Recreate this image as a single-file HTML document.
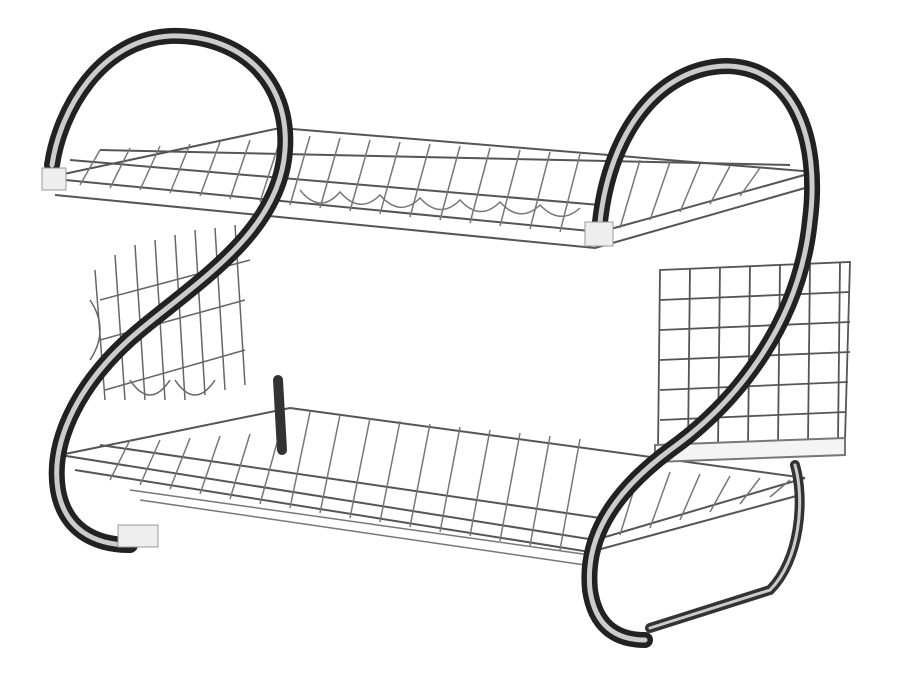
<!DOCTYPE html>
<html><head><meta charset="utf-8"><style>html,body{margin:0;padding:0;background:#fff}svg{display:block}</style></head>
<body>
<svg width="898" height="673" viewBox="0 0 898 673" xmlns="http://www.w3.org/2000/svg">
<rect width="898" height="673" fill="#fff"/>
<g fill="none" stroke="#555" stroke-width="2">
<!-- upper tray -->
<path d="M45 178 L600 232 L815 172 L280 128 Z"/>
<path d="M55 195 L595 248 L805 188"/>
<path d="M70 160 L600 205 M100 150 L790 165"/>
<g stroke="#777" stroke-width="1.5">
<path d="M80 185 L100 150 M110 188 L130 148 M140 190 L160 146 M170 193 L190 144 M200 196 L220 142 M230 199 L250 140 M260 202 L282 134 M290 205 L310 136 M320 208 L340 138 M350 211 L370 140 M380 214 L400 142 M410 217 L430 144 M440 220 L460 146 M470 223 L490 148 M500 226 L520 150 M530 229 L550 152 M560 232 L580 154 M620 228 L640 160 M650 220 L670 162 M680 212 L700 164 M710 204 L730 166 M740 196 L760 168"/>
<path d="M300 190 Q320 215 340 192 Q360 215 380 195 Q400 218 420 198 Q440 220 460 200 Q480 222 500 202 Q520 224 540 205 Q560 226 580 208"/>
</g>
<!-- left plate holder -->
<g stroke="#666" stroke-width="1.5">
<path d="M95 270 L105 400 M115 255 L125 400 M135 245 L145 400 M155 240 L165 400 M175 235 L185 400 M195 230 L205 395 M215 228 L225 390 M235 225 L245 385"/>
<path d="M100 300 L250 260 M100 340 L245 300 M105 390 L245 350"/>
<path d="M90 300 Q110 330 90 360 M130 380 Q150 410 170 380 M175 380 Q195 410 215 380"/>
</g>
<!-- lower tray -->
<path d="M60 455 L595 540 L805 478 L290 408 Z"/>
<path d="M75 470 L590 552 L800 495"/>
<path d="M100 445 L600 518"/>
<g stroke="#777" stroke-width="1.5">
<path d="M110 480 L130 440 M140 485 L160 440 M170 489 L190 438 M200 494 L220 436 M230 499 L250 434 M260 504 L280 432 M290 508 L310 412 M320 513 L340 415 M350 518 L370 418 M380 522 L400 421 M410 527 L430 424 M440 532 L460 427 M470 536 L490 430 M500 541 L520 433 M530 546 L550 436 M560 550 L580 439 M620 535 L640 470 M650 528 L670 472 M680 520 L700 474 M710 512 L730 476 M740 504 L760 478 M770 497 L790 480"/>
<path d="M130 490 L590 555 M140 500 L585 565"/>
</g>
<!-- cutlery basket -->
<g stroke="#555" stroke-width="1.8">
<path d="M660 270 L850 262 L845 440 L658 450 Z"/>
<path d="M660 300 L850 292 M660 330 L850 322 M660 360 L850 352 M660 390 L848 382 M660 420 L846 412"/>
<path d="M690 268 L688 448 M720 267 L718 447 M750 266 L748 446 M780 265 L778 444 M810 264 L808 442 M840 262 L838 440"/>
</g>
<path d="M655 445 L845 438 L845 455 L655 462 Z" fill="#f4f4f4" stroke="#777"/>
</g>
<!-- chrome frames -->
<g fill="none" stroke-linecap="round">
<path d="M52 165 C60 110 100 40 170 36 C240 34 290 80 285 150 C280 230 200 280 140 330 C80 380 50 440 58 490 C65 530 95 545 130 545" stroke="#222" stroke-width="16"/>
<path d="M52 165 C60 110 100 40 170 36 C240 34 290 80 285 150 C280 230 200 280 140 330 C80 380 50 440 58 490 C65 530 95 545 130 545" stroke="#ccc" stroke-width="5"/>
<path d="M600 222 C610 130 660 68 725 66 C795 66 820 140 810 220 C800 320 740 400 670 450 C610 495 585 540 590 590 C595 625 615 640 645 640" stroke="#222" stroke-width="16"/>
<path d="M600 222 C610 130 660 68 725 66 C795 66 820 140 810 220 C800 320 740 400 670 450 C610 495 585 540 590 590 C595 625 615 640 645 640" stroke="#ccc" stroke-width="5"/>
<path d="M278 380 L282 450" stroke="#333" stroke-width="10"/>
<path d="M795 465 C805 500 800 560 770 590 L650 628" stroke="#333" stroke-width="10"/>
<path d="M795 465 C805 500 800 560 770 590 L650 628" stroke="#ccc" stroke-width="3"/>
</g>
<g fill="#eee" stroke="#999">
<rect x="42" y="168" width="24" height="22"/>
<rect x="585" y="222" width="28" height="24"/>
<rect x="118" y="525" width="40" height="22"/>
</g>
</svg>
</body></html>
